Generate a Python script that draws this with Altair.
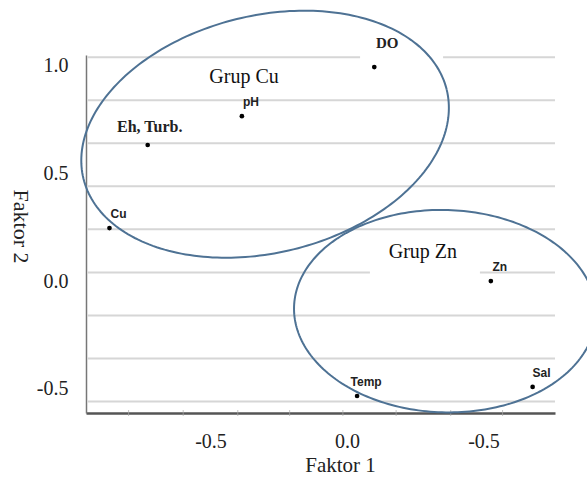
import altair as alt
import pandas as pd
import numpy as np

# ---- data ----
names = ["DO", "pH", "Eh, Turb.", "Cu", "Zn", "Sal", "Temp"]
faktor1 = [0.10, -0.385, -0.73, -0.87, 0.527, 0.68, 0.037]
faktor2 = [0.994, 0.766, 0.632, 0.246, 0.0, -0.492, -0.534]

group_names = ["Grup Cu", "Grup Zn"]
group_x = [-0.377, 0.278]
group_y = [0.948, 0.135]

y_tick_values = [-0.5, 0.0, 0.5, 1.0]
y_tick_labels = ["-0.5", "0.0", "0.5", "1.0"]
x_tick_values = [-0.5, 0.0, 0.5]
x_tick_labels = ["-0.5", "0.0", "-0.5"]
minor_x_ticks = [-0.80, -0.60, -0.40, -0.21, -0.015, 0.18, 0.38, 0.57]

# horizontal gridline segments (y value, from x, to x)
grid_y = [1.04, 1.04, 0.84, 0.64, 0.44, 0.24, 0.04, 0.04, -0.16, -0.36, -0.56]
grid_from = [-0.95, 0.352, -0.95, -0.95, -0.95, -0.95, -0.95, 0.487, -0.95, -0.95, -0.95]
grid_to = [0.048, 0.762, 0.762, 0.762, 0.762, 0.762, 0.084, 0.762, 0.762, 0.762, 0.762]

# group ellipses: center (data units), semi-axes (px), rotation (deg)
ellipse_names = ["Cu", "Zn"]
ellipse_cx = [-0.300, 0.359]
ellipse_cy = [0.682, -0.140]
ellipse_a = [187.0, 151.0]
ellipse_b = [118.6, 101.2]
ellipse_rot = [13.8, -1.7]

W, H = 469, 358
X_DOMAIN = [-0.956, 0.762]
Y_DOMAIN = [-0.613, 1.05]
PX_X = W / (X_DOMAIN[1] - X_DOMAIN[0])
PX_Y = H / (Y_DOMAIN[1] - Y_DOMAIN[0])

pts = pd.DataFrame({"name": names, "f1": faktor1, "f2": faktor2})
groups = pd.DataFrame({"name": group_names, "f1": group_x, "f2": group_y})
grid = pd.DataFrame({"g": grid_y, "x1": grid_from, "x2": grid_to})
minor = pd.DataFrame({"m": minor_x_ticks})

frames = []
for nm, cx, cy, a, b, rot in zip(ellipse_names, ellipse_cx, ellipse_cy, ellipse_a, ellipse_b, ellipse_rot):
    t = np.linspace(0, 2 * np.pi, 241)
    th = np.radians(rot)
    dx = a * np.cos(t) * np.cos(th) - b * np.sin(t) * np.sin(th)
    dy = a * np.cos(t) * np.sin(th) + b * np.sin(t) * np.cos(th)
    frames.append(pd.DataFrame({"grp": nm, "i": np.arange(len(t)),
                                "f1": cx + dx / PX_X, "f2": cy + dy / PX_Y}))
ell = pd.concat(frames, ignore_index=True)

xscale = alt.Scale(domain=X_DOMAIN, nice=False, zero=False)
yscale = alt.Scale(domain=Y_DOMAIN, nice=False, zero=False)


def make_expr(values, labels):
    return " : ".join(
        [f"abs(datum.value - ({v})) < 1e-6 ? '{l}'" for v, l in zip(values, labels)]
    ) + " : ''"


x_axis = alt.Axis(values=x_tick_values, labelExpr=make_expr(x_tick_values, x_tick_labels),
                  title="Faktor 1",
                  grid=False, ticks=False, domainColor="#555", domainWidth=2.5,
                  labelFont="Liberation Serif", labelFontSize=20, labelColor="#222",
                  labelPadding=18, titleFont="Liberation Serif", titleFontSize=21,
                  titleFontWeight="normal", titleColor="#222",
                  titleX=254, titleY=52, titleBaseline="middle", titleAlign="center")
y_axis = alt.Axis(values=y_tick_values, labelExpr=make_expr(y_tick_values, y_tick_labels),
                  title="Faktor 2",
                  grid=False, ticks=False, domainColor="#777", domainWidth=1.5,
                  labelFont="Liberation Serif", labelFontSize=20, labelColor="#222",
                  labelPadding=18, titleFont="Liberation Serif", titleFontSize=22,
                  titleFontWeight="normal", titleColor="#222", titleAngle=90,
                  titleX=-66, titleY=171, titleBaseline="middle", titleAlign="center")

X = lambda f: alt.X(f, scale=xscale, axis=x_axis)
Y = lambda f: alt.Y(f, scale=yscale, axis=y_axis)

points = alt.Chart(pts).mark_circle(size=22, color="black", opacity=1).encode(
    x=X("f1:Q"), y=Y("f2:Q"),
)

gridlines = alt.Chart(grid).mark_rule(color="#d6d6d6", strokeWidth=2).encode(
    y=Y("g:Q"), x=X("x1:Q"), x2="x2:Q",
)

minor_ticks = alt.Chart(minor).mark_tick(color="#aaa", thickness=1, size=6, orient="vertical").encode(
    x=X("m:Q"), y=alt.value(H),
)

ellipses = alt.Chart(ell).mark_line(color="#4e7294", strokeWidth=2, clip=False).encode(
    x=X("f1:Q"), y=Y("f2:Q"), detail="grp:N", order="i:Q",
)


def text_layer(name, font, size, weight, dx, dy):
    return alt.Chart(pts).transform_filter(alt.datum.name == name).mark_text(
        font=font, fontSize=size, fontWeight=weight, color="#222",
        dx=dx, dy=dy, align="center", baseline="middle",
    ).encode(x=X("f1:Q"), y=Y("f2:Q"), text="name:N")


texts = [
    text_layer("DO", "Liberation Serif", 15, "bold", 13, -24),
    text_layer("Eh, Turb.", "Liberation Serif", 16, "bold", 2, -18),
]
for nm in ["pH", "Cu", "Zn", "Sal", "Temp"]:
    texts.append(text_layer(nm, "Liberation Sans Narrow, Liberation Sans", 12, "bold", 9, -14))

group_text = alt.Chart(groups).mark_text(
    font="Liberation Serif", fontSize=20, color="#111", align="center", baseline="middle"
).encode(x=X("f1:Q"), y=Y("f2:Q"), text="name:N")

chart = alt.layer(
    gridlines, minor_ticks, ellipses, points, *texts, group_text
).properties(
    width=W, height=H,
    autosize=alt.AutoSizeParams(type="none"),
    padding={"left": 86, "top": 55, "right": 32, "bottom": 68},
    background="white",
).configure_view(stroke=None)

chart.save("out.html", embed_options={"renderer": "svg", "actions": False})
